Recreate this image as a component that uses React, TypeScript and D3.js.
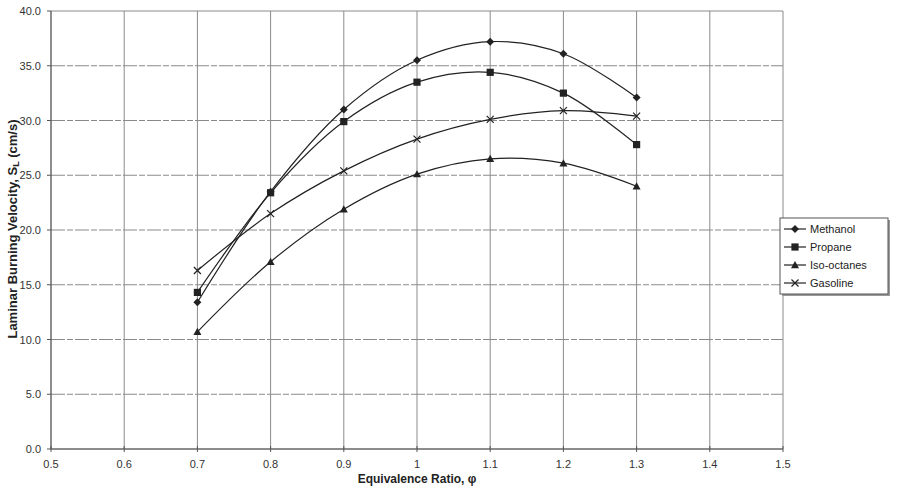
import React from 'react';
import * as d3 from 'd3';

const phi = [0.7, 0.8, 0.9, 1.0, 1.1, 1.2, 1.3];
const methanol = [13.4, 23.5, 31.0, 35.5, 37.2, 36.1, 32.1];
const propane = [14.3, 23.4, 29.9, 33.5, 34.4, 32.5, 27.8];
const isoOctanes = [10.7, 17.1, 21.9, 25.1, 26.5, 26.1, 24.0];
const gasoline = [16.3, 21.5, 25.4, 28.3, 30.1, 30.9, 30.4];

const seriesNames = ['Methanol', 'Propane', 'Iso-octanes', 'Gasoline'];
const seriesValues = [methanol, propane, isoOctanes, gasoline];
const markerTypes = ['diamond', 'square', 'triangle', 'cross'];

const xTicks = [0.5, 0.6, 0.7, 0.8, 0.9, 1.0, 1.1, 1.2, 1.3, 1.4, 1.5];
const yTicks = [0, 5, 10, 15, 20, 25, 30, 35, 40];

const W = 912;
const H = 486;
const left = 51;
const right = 783;
const top = 11;
const bottom = 449;

const font = 'Arial, "Liberation Sans", sans-serif';
const ink = '#222';
const gridColor = '#8a8a8a';

function Marker({type, x, y}: {type: string; x: number; y: number}) {
  if (type === 'diamond') {
    const s = 4;
    return <path d={`M${x},${y - s}L${x + s},${y}L${x},${y + s}L${x - s},${y}Z`} fill={ink} />;
  }
  if (type === 'square') {
    const s = 3.6;
    return <rect x={x - s} y={y - s} width={s * 2} height={s * 2} fill={ink} />;
  }
  if (type === 'triangle') {
    const s = 4;
    return <path d={`M${x},${y - s}L${x + s},${y + s * 0.8}L${x - s},${y + s * 0.8}Z`} fill={ink} />;
  }
  const s = 3.5;
  return (
    <path d={`M${x - s},${y - s}L${x + s},${y + s}M${x + s},${y - s}L${x - s},${y + s}`}
      stroke={ink} strokeWidth={1.2} fill="none" />
  );
}

export default function App() {
  const x = d3.scaleLinear().domain([0.5, 1.5]).range([left, right]);
  const y = d3.scaleLinear().domain([0, 40]).range([bottom, top]);

  const line = d3.line<number>()
    .x((d, i) => x(phi[i]))
    .y(d => y(d))
    .curve(d3.curveCatmullRom.alpha(0.5));

  const legX = 780;
  const legY = 218;
  const legRow = 18;

  return (
    <svg width={W} height={H} style={{position: 'absolute', left: 0, top: 0, background: '#fff'}}>
      {/* grid */}
      {yTicks.map(t => (
        <line key={'gy' + t} x1={left} x2={right} y1={y(t)} y2={y(t)}
          stroke={gridColor} strokeWidth={1} strokeDasharray={t === 0 || t === 40 ? undefined : '14,2,6,2'} />
      ))}
      {xTicks.map(t => (
        <line key={'gx' + t} x1={x(t)} x2={x(t)} y1={top} y2={bottom} stroke={gridColor} strokeWidth={1} />
      ))}

      {/* axes */}
      <line x1={left} x2={left} y1={top} y2={bottom} stroke="#555" />
      <line x1={left} x2={right} y1={bottom} y2={bottom} stroke="#555" />
      {yTicks.map(t => (
        <g key={'ty' + t}>
          <line x1={left - 4} x2={left} y1={y(t)} y2={y(t)} stroke="#555" />
          <text x={left - 10} y={y(t) + 4} textAnchor="end" fontFamily={font} fontSize={11} fill="#333">
            {t.toFixed(1)}
          </text>
        </g>
      ))}
      {xTicks.map(t => (
        <g key={'tx' + t}>
          <line x1={x(t)} x2={x(t)} y1={bottom - 3} y2={bottom + 3} stroke="#555" />
          <text x={x(t)} y={bottom + 19} textAnchor="middle" fontFamily={font} fontSize={11} fill="#333">
            {String(t)}
          </text>
        </g>
      ))}

      {/* axis titles */}
      <text transform={`translate(17,229) rotate(-90)`} textAnchor="middle"
        fontFamily={font} fontSize={13} fontWeight="bold" fill={ink}>
        Laminar Burning Velocity, S<tspan fontSize={9} dy={2}>L</tspan><tspan dy={-2}> (cm/s)</tspan>
      </text>
      <text x={x(1.0)} y={483} textAnchor="middle" fontFamily={font} fontSize={12} fontWeight="bold" fill={ink}>
        Equivalence Ratio, φ
      </text>

      {/* series */}
      {seriesValues.map((vals, si) => (
        <g key={seriesNames[si]}>
          <path d={line(vals) || ''} fill="none" stroke={ink} strokeWidth={1.2} />
          {vals.map((v, i) => (
            <Marker key={i} type={markerTypes[si]} x={x(phi[i])} y={y(v)} />
          ))}
        </g>
      ))}

      {/* legend */}
      <rect x={legX + 2} y={legY + 2} width={108} height={76} fill="#999" />
      <rect x={legX} y={legY} width={108} height={76} fill="#fff" stroke="#555" />
      {seriesNames.map((n, i) => {
        const ly = legY + 11 + i * legRow;
        return (
          <g key={'leg' + n}>
            <line x1={legX + 4} x2={legX + 26} y1={ly} y2={ly} stroke={ink} strokeWidth={1.2} />
            <Marker type={markerTypes[i]} x={legX + 15} y={ly} />
            <text x={legX + 30} y={ly + 4} fontFamily={font} fontSize={11} fill={ink}>{n}</text>
          </g>
        );
      })}
    </svg>
  );
}
